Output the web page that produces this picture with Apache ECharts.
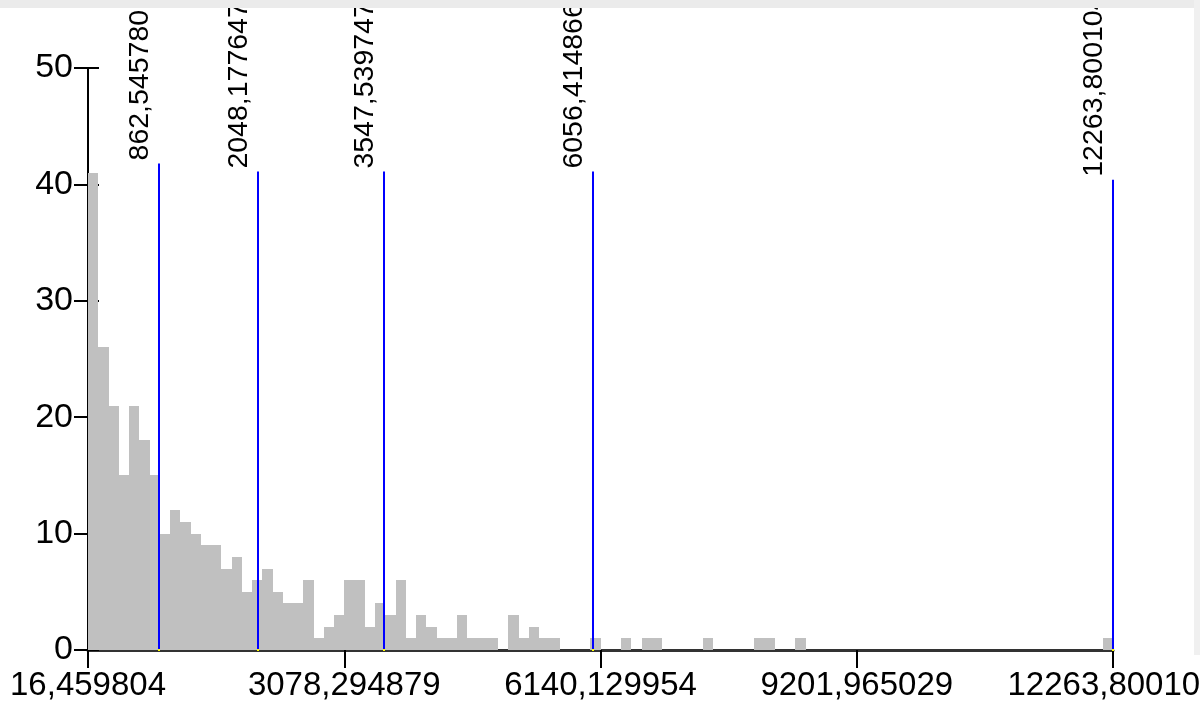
<!DOCTYPE html>
<html>
<head>
<meta charset="utf-8">
<script src="https://cdn.jsdelivr.net/npm/echarts@6/dist/echarts.min.js"></script>
<style>
  html, body { margin: 0; padding: 0; background: #ffffff; }
  #chart { position: absolute; left: 0; top: 0; width: 1200px; height: 705px; }
</style>
</head>
<body>
<div id="chart"></div>
<script>
// ---- data ----
const xMin = 16.459804;
const xMax = 12263.800104;
const binCount = 100;
const binHeights = [
  41, 26, 21, 15, 21, 18, 15, 10, 12, 11,
  10, 9, 9, 7, 8, 5, 6, 7, 5, 4,
  4, 6, 1, 2, 3, 6, 6, 2, 4, 3,
  6, 1, 3, 2, 1, 1, 3, 1, 1, 1,
  0, 3, 1, 2, 1, 1, 0, 0, 0, 1,
  0, 0, 1, 0, 1, 1, 0, 0, 0, 0,
  1, 0, 0, 0, 0, 1, 1, 0, 0, 1,
  0, 0, 0, 0, 0, 0, 0, 0, 0, 0,
  0, 0, 0, 0, 0, 0, 0, 0, 0, 0,
  0, 0, 0, 0, 0, 0, 0, 0, 0, 1
];
const xTickValues = [16.459804, 3078.294879, 6140.129954, 9201.965029, 12263.800104];
const xTickLabels = ["16,459804", "3078,294879", "6140,129954", "9201,965029", "12263,800104"];
const breakValues = [862.545780, 2048.177647, 3547.539747, 6056.414866, 12263.800104];
const breakLabels = ["862,545780", "2048,177647", "3547,539747", "6056,414866", "12263,800104"];
const breakTops = [41.8, 41.1, 41.1, 41.1, 40.4];

// ---- build ----
const binWidth = (xMax - xMin) / binCount;
const binData = binHeights.map((h, i) => [xMin + i * binWidth, xMin + (i + 1) * binWidth, h]);
const breakData = breakValues.map((v, i) => [v, breakTops[i], breakLabels[i]]);
const FONT = 'Arial, "Liberation Sans", sans-serif';

const chart = echarts.init(document.getElementById('chart'), null, { renderer: 'canvas' });
chart.setOption({
  animation: false,
  backgroundColor: '#ffffff',
  grid: { left: 88, right: 87, top: 68, bottom: 55, containLabel: false, outerBoundsMode: 'none' },
  xAxis: {
    type: 'value', min: xMin, max: xMax,
    splitLine: { show: false },
    axisLine: { show: true, lineStyle: { color: '#333333', width: 3 } },
    axisTick: { show: true, customValues: xTickValues, length: 18, lineStyle: { color: '#000', width: 2 } },
    axisLabel: {
      customValues: xTickValues, fontSize: 33, color: '#000', fontFamily: FONT, margin: 19,
      formatter: function (v) {
        for (let i = 0; i < xTickValues.length; i++) if (Math.abs(v - xTickValues[i]) < 1e-4) return xTickLabels[i];
        return '';
      }
    }
  },
  yAxis: [{
    type: 'value', min: 0, max: 50, interval: 10,
    splitLine: { show: false },
    axisLine: { show: true, lineStyle: { color: '#000', width: 2 } },
    axisTick: { show: true, length: 14, lineStyle: { color: '#000', width: 2 } },
    axisLabel: { fontSize: 34, color: '#000', fontFamily: FONT, margin: 15 }
  }, {
    type: 'value', min: 0, max: 50, interval: 10, position: 'left',
    splitLine: { show: false },
    axisLine: { show: false },
    axisTick: { show: true, inside: true, length: 11, lineStyle: { color: '#000', width: 2 } },
    axisLabel: { show: false }
  }],
  series: [{
    type: 'custom',
    data: binData,
    encode: { x: [0, 1], y: 2 },
    z: 1,
    renderItem: function (params, api) {
      const h = api.value(2);
      if (!h) return null;
      const p0 = api.coord([api.value(0), 0]);
      const p1 = api.coord([api.value(1), h]);
      const x0 = Math.round(p0[0]), x1 = Math.round(p1[0]);
      const y1 = Math.round(p1[1]), y0 = Math.round(p0[1]);
      return {
        type: 'rect',
        shape: { x: x0, y: y1, width: x1 - x0, height: y0 - y1 },
        style: { fill: '#c0c0c0' }
      };
    }
  }, {
    type: 'custom',
    data: breakData,
    encode: { x: 0, y: 1 },
    z: 5,
    clip: false,
    renderItem: function (params, api) {
      const pb = api.coord([api.value(0), 0]);
      const pt = api.coord([api.value(0), api.value(1)]);
      const x = Math.round(pb[0]);
      return {
        type: 'group',
        children: [{
          type: 'line',
          shape: { x1: x, y1: pb[1], x2: x, y2: pt[1] },
          style: { stroke: '#0000ff', lineWidth: 2 }
        }, {
          type: 'rect',
          shape: { x: x - 1, y: pb[1] - 1, width: 2, height: 2 },
          style: { fill: '#ffff00' }
        }, {
          type: 'text',
          x: x - 4, y: pt[1] - 3,
          rotation: Math.PI / 2,
          style: {
            text: breakData[params.dataIndex][2],
            fontSize: 28.5, fontFamily: FONT, fill: '#000',
            align: 'left', verticalAlign: 'bottom'
          }
        }]
      };
    }
  }],
  graphic: [
    { type: 'rect', z: 100, shape: { x: 0, y: 0, width: 1200, height: 8 }, style: { fill: '#ebebeb' } },
    { type: 'rect', z: 100, shape: { x: 1194, y: 0, width: 6, height: 655 }, style: { fill: '#f0f0f0' } }
  ]
});
</script>
</body>
</html>
